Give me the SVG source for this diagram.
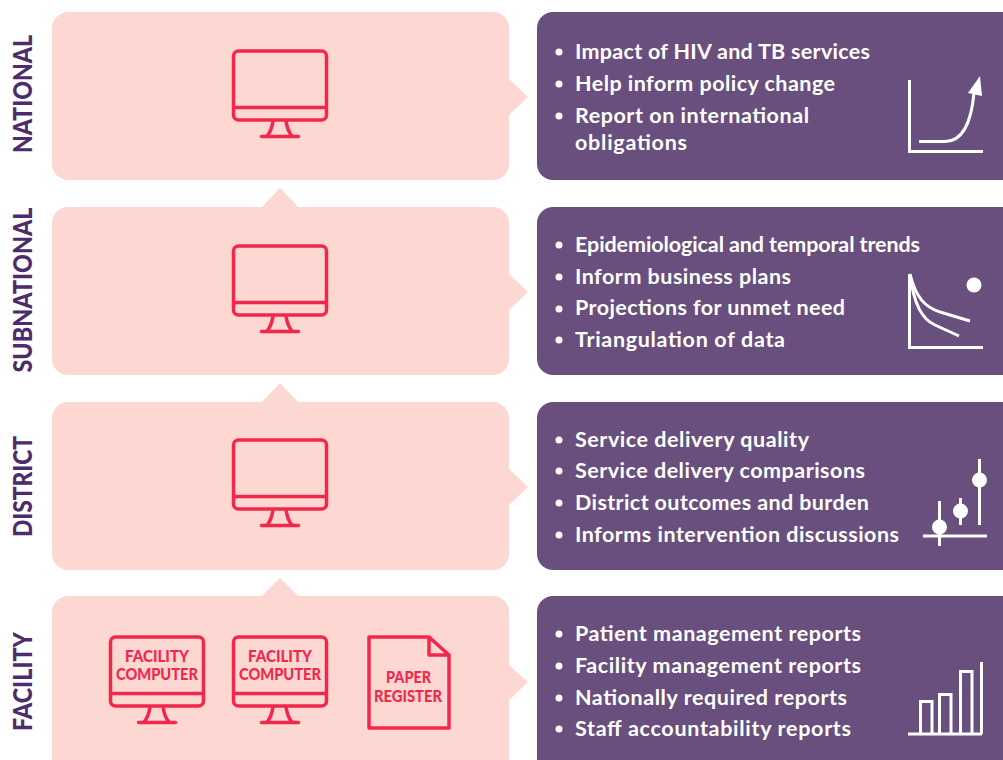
<svg xmlns="http://www.w3.org/2000/svg" width="1003" height="760" viewBox="0 0 1003 760">
<style>
text{font-variant-ligatures:none}
.pink{fill:#fdd8d2}
.purple{fill:#694f7e}
.side{font:900 26px "Lato",sans-serif;fill:#4d2c6e;text-anchor:middle}
.bul{font:700 21.500px "Lato",sans-serif;fill:#fff}
.dot{fill:#fff}
.red{fill:none;stroke:#f3274c;stroke-width:3.500;stroke-linecap:round;stroke-linejoin:round}
.rt{font:900 16.500px "Lato",sans-serif;fill:#f3274c;text-anchor:middle}
.w{fill:none;stroke:#fff;stroke-width:3}
.wf{fill:#fff}
</style>
<defs>
<g id="mon"><rect class="red" x="233.500" y="51" width="93" height="69" rx="5"/><path class="red" d="M233.500 107.500H326.500M273 121C272 128 270 133 266.500 136.500M286 121C287 128 289 133 292.500 136.500M261.500 136.500H298.500"/></g>
</defs>
<g id="connectors" class="pink">
<path d="M509 79L528 97L509 115Z"/><path d="M509 274L528 292L509 310Z"/><path d="M509 469L528 487L509 505Z"/><path d="M509 665L528 682L509 700Z"/>
<path d="M262 207L280 188L298 207Z"/><path d="M262 402L280 383L298 402Z"/><path d="M262 596L280 578L298 596Z"/>
</g>
<g id="national"><rect class="pink" x="52" y="12" width="457" height="168" rx="16"/><use href="#mon"/><text class="side" transform="translate(31.500 94) rotate(-90)" textLength="118" lengthAdjust="spacingAndGlyphs">NATIONAL</text></g>
<g id="subnational"><rect class="pink" x="52" y="207" width="457" height="168" rx="16"/><use href="#mon" y="195"/><text class="side" transform="translate(31.500 290) rotate(-90)" textLength="165" lengthAdjust="spacingAndGlyphs">SUBNATIONAL</text></g>
<g id="district"><rect class="pink" x="52" y="402" width="457" height="168" rx="16"/><use href="#mon" y="389"/><text class="side" transform="translate(31.500 486.500) rotate(-90)" textLength="101" lengthAdjust="spacingAndGlyphs">DISTRICT</text></g>
<g id="facility"><rect class="pink" x="52" y="596" width="457" height="180" rx="16"/><use href="#mon" x="-123" y="586"/><use href="#mon" y="586"/>
<text class="rt" x="157" y="662" textLength="64" lengthAdjust="spacingAndGlyphs">FACILITY</text><text class="rt" x="157" y="680" textLength="82" lengthAdjust="spacingAndGlyphs">COMPUTER</text>
<text class="rt" x="280" y="662" textLength="64" lengthAdjust="spacingAndGlyphs">FACILITY</text><text class="rt" x="280" y="680" textLength="82" lengthAdjust="spacingAndGlyphs">COMPUTER</text>
<path class="red" d="M369 637H429L449 655V728H369ZM429 637V655H449"/>
<text class="rt" x="408.500" y="683" textLength="45" lengthAdjust="spacingAndGlyphs">PAPER</text><text class="rt" x="408" y="702" textLength="68" lengthAdjust="spacingAndGlyphs">REGISTER</text>
<text class="side" transform="translate(31.500 681.500) rotate(-90)" textLength="99" lengthAdjust="spacingAndGlyphs">FACILITY</text></g>
<g id="national-info"><rect class="purple" x="537" y="12" width="490" height="168" rx="16"/>
<circle class="dot" cx="559" cy="52" r="3.500"/><circle class="dot" cx="559" cy="84" r="3.500"/><circle class="dot" cx="559" cy="116" r="3.500"/>
<text class="bul" x="575" y="59" textLength="295">Impact of HIV and TB services</text><text class="bul" x="575" y="91" textLength="260">Help inform policy change</text><text class="bul" x="575" y="123" textLength="234">Report on international</text><text class="bul" x="575" y="150" textLength="112">obligations</text>
<path class="w" d="M909.500 80V151.500H983M919 141.500H945C962 141.500 971 125 974 93"/><path class="wf" d="M980 76L968 93L982 96Z"/></g>
<g id="subnational-info"><rect class="purple" x="537" y="207" width="490" height="168" rx="16"/>
<circle class="dot" cx="559" cy="245" r="3.500"/><circle class="dot" cx="559" cy="277" r="3.500"/><circle class="dot" cx="559" cy="309" r="3.500"/><circle class="dot" cx="559" cy="340" r="3.500"/>
<text class="bul" x="575" y="252" textLength="345">Epidemiological and temporal trends</text><text class="bul" x="575" y="284" textLength="216">Inform business plans</text><text class="bul" x="575" y="315" textLength="270">Projections for unmet need</text><text class="bul" x="575" y="347" textLength="210">Triangulation of data</text>
<path class="w" d="M909.500 274V347.500H983M910 274C916 298 925 307 940 312L970 321M910 274C914 305 922 319 935 325L959 336"/><circle class="wf" cx="974" cy="285" r="7.500"/></g>
<g id="district-info"><rect class="purple" x="537" y="402" width="490" height="168" rx="16"/>
<circle class="dot" cx="559" cy="440" r="3.500"/><circle class="dot" cx="559" cy="471" r="3.500"/><circle class="dot" cx="559" cy="503" r="3.500"/><circle class="dot" cx="559" cy="535" r="3.500"/>
<text class="bul" x="575" y="447" textLength="234">Service delivery quality</text><text class="bul" x="575" y="478" textLength="290">Service delivery comparisons</text><text class="bul" x="575" y="510" textLength="294">District outcomes and burden</text><text class="bul" x="575" y="542" textLength="324">Informs intervention discussions</text>
<path class="w" d="M923 536H987M939.500 501V546M960.500 498V525M979.500 459V525"/><circle class="wf" cx="939.500" cy="527" r="7.500"/><circle class="wf" cx="960.500" cy="511" r="7.500"/><circle class="wf" cx="979.500" cy="480" r="7.500"/></g>
<g id="facility-info"><rect class="purple" x="537" y="596" width="490" height="180" rx="16"/>
<circle class="dot" cx="559" cy="634" r="3.500"/><circle class="dot" cx="559" cy="666" r="3.500"/><circle class="dot" cx="559" cy="698" r="3.500"/><circle class="dot" cx="559" cy="729" r="3.500"/>
<text class="bul" x="575" y="641" textLength="286">Patient management reports</text><text class="bul" x="575" y="673" textLength="286">Facility management reports</text><text class="bul" x="575" y="705" textLength="272">Nationally required reports</text><text class="bul" x="575" y="736" textLength="276">Staff accountability reports</text>
<path class="w" d="M908 734H982M981.500 662V734M920.500 734V701.500H932V734M939.500 734V694.500H951V734M960.500 734V671.500H972V734"/></g>
</svg>
